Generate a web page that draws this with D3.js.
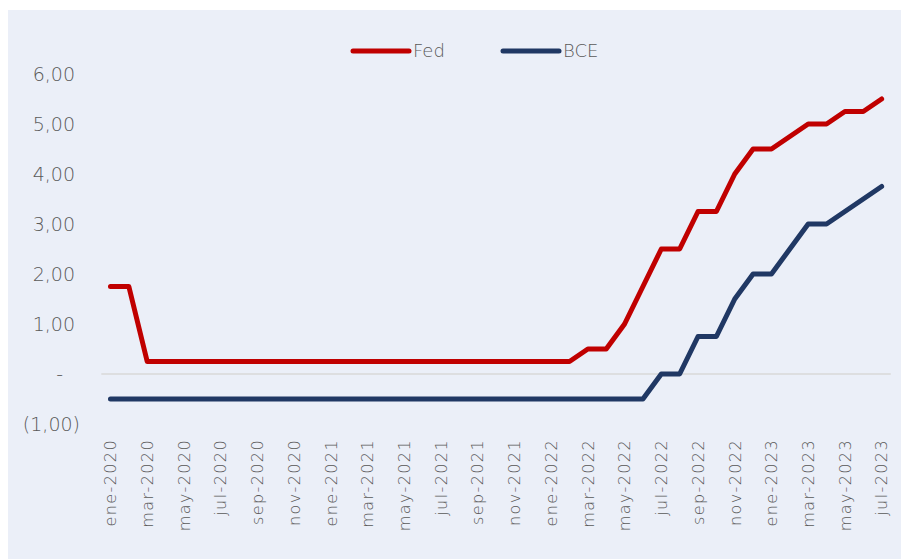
<!DOCTYPE html>
<html>
<head>
<meta charset="utf-8">
<script src="https://cdn.jsdelivr.net/npm/d3@7"></script>
<style>
    body { margin: 0; background: #fff; }
    text { font-family: "DejaVu Sans", sans-serif; font-weight: 200; fill: #595959; }
</style>
</head>
<body>
<div id="chart"></div>
<script>
// monthly labels ene-2020 .. jul-2023
const months = [
    "ene-2020", "feb-2020", "mar-2020", "abr-2020", "may-2020", "jun-2020", "jul-2020", "ago-2020", "sep-2020", "oct-2020", "nov-2020", "dic-2020",
    "ene-2021", "feb-2021", "mar-2021", "abr-2021", "may-2021", "jun-2021", "jul-2021", "ago-2021", "sep-2021", "oct-2021", "nov-2021", "dic-2021",
    "ene-2022", "feb-2022", "mar-2022", "abr-2022", "may-2022", "jun-2022", "jul-2022", "ago-2022", "sep-2022", "oct-2022", "nov-2022", "dic-2022",
    "ene-2023", "feb-2023", "mar-2023", "abr-2023", "may-2023", "jun-2023", "jul-2023"
];

const fed = [
    1.75, 1.75, 0.25, 0.25, 0.25, 0.25, 0.25, 0.25, 0.25, 0.25, 0.25, 0.25,
    0.25, 0.25, 0.25, 0.25, 0.25, 0.25, 0.25, 0.25, 0.25, 0.25, 0.25, 0.25,
    0.25, 0.25, 0.50, 0.50, 1.00, 1.75, 2.50, 2.50, 3.25, 3.25, 4.00, 4.50,
    4.50, 4.75, 5.00, 5.00, 5.25, 5.25, 5.50
];

const bce = [
    -0.5, -0.5, -0.5, -0.5, -0.5, -0.5, -0.5, -0.5, -0.5, -0.5, -0.5, -0.5,
    -0.5, -0.5, -0.5, -0.5, -0.5, -0.5, -0.5, -0.5, -0.5, -0.5, -0.5, -0.5,
    -0.5, -0.5, -0.5, -0.5, -0.5, -0.5, 0.00, 0.00, 0.75, 0.75, 1.50, 2.00,
    2.00, 2.50, 3.00, 3.00, 3.25, 3.50, 3.75
];

const yTicks = [-1, 0, 1, 2, 3, 4, 5, 6];

const seriesNames = ["Fed", "BCE"];
const seriesColors = ["#C00000", "#203864"];

const width = 901, height = 559;

let svg = d3.select("#chart")
    .append("svg")
    .attr("width", width)
    .attr("height", height);

// panel background
svg.append("rect")
    .attr("x", 8)
    .attr("y", 10)
    .attr("width", width - 8)
    .attr("height", height - 10)
    .attr("fill", "#EBEFF8");

let x = d3.scaleBand()
    .domain(months)
    .range([101.3, 890.8]);

let y = d3.scaleLinear()
    .domain([-1, 6])
    .range([424, 74]);

// zero line
svg.append("line")
    .attr("x1", x.range()[0])
    .attr("x2", x.range()[1])
    .attr("y1", y(0))
    .attr("y2", y(0))
    .attr("stroke", "#D9D9D9")
    .attr("stroke-width", 1.5);

// y axis, accounting style labels
let fmt = function (v) {
    if (v === 0) return "-";
    let s = Math.abs(v).toFixed(2).replace(".", ",");
    return v < 0 ? "(" + s + ")" : s;
};

let yAxis = svg.append("g")
    .attr("transform", "translate(75,0)")
    .call(d3.axisLeft(y).tickValues(yTicks).tickSize(0).tickPadding(0).tickFormat(fmt));
yAxis.select(".domain").remove();
yAxis.selectAll("text")
    .style("font-family", "'DejaVu Sans', sans-serif")
    .style("font-size", "19px")
    .attr("fill", "#595959")
    .attr("x", d => d < 0 ? 5 : (d === 0 ? -12 : 0))
    .attr("dy", "0.36em");

// x axis, every second month
let xAxis = svg.append("g")
    .attr("transform", "translate(0,439)")
    .call(d3.axisBottom(x)
        .tickValues(months.filter((m, i) => i % 2 === 0))
        .tickSize(0));
xAxis.select(".domain").remove();
xAxis.selectAll("text")
    .style("font-family", "'DejaVu Sans', sans-serif")
    .style("font-size", "16px")
    .style("letter-spacing", "1.4px")
    .attr("fill", "#595959")
    .attr("transform", "rotate(-90)")
    .attr("text-anchor", "end")
    .attr("x", 0)
    .attr("y", 0)
    .attr("dy", "0.36em");

// lines
let line = d3.line()
    .x((d, i) => x(months[i]) + x.bandwidth() / 2)
    .y(d => y(d));

[fed, bce].forEach(function (values, k) {
    svg.append("path")
        .datum(values)
        .attr("fill", "none")
        .attr("stroke", seriesColors[k])
        .attr("stroke-width", 5)
        .attr("stroke-linecap", "round")
        .attr("stroke-linejoin", "round")
        .attr("d", line);
});

// legend
let legendX = [353, 503];
seriesNames.forEach(function (name, k) {
    let g = svg.append("g").attr("transform", `translate(${legendX[k]},51)`);
    g.append("line")
        .attr("x1", 0)
        .attr("x2", 56)
        .attr("stroke", seriesColors[k])
        .attr("stroke-width", 5)
        .attr("stroke-linecap", "round");
    g.append("text")
        .attr("x", 60)
        .attr("dy", "0.36em")
        .style("font-size", "18px")
        .text(name);
});
</script>
</body>
</html>
